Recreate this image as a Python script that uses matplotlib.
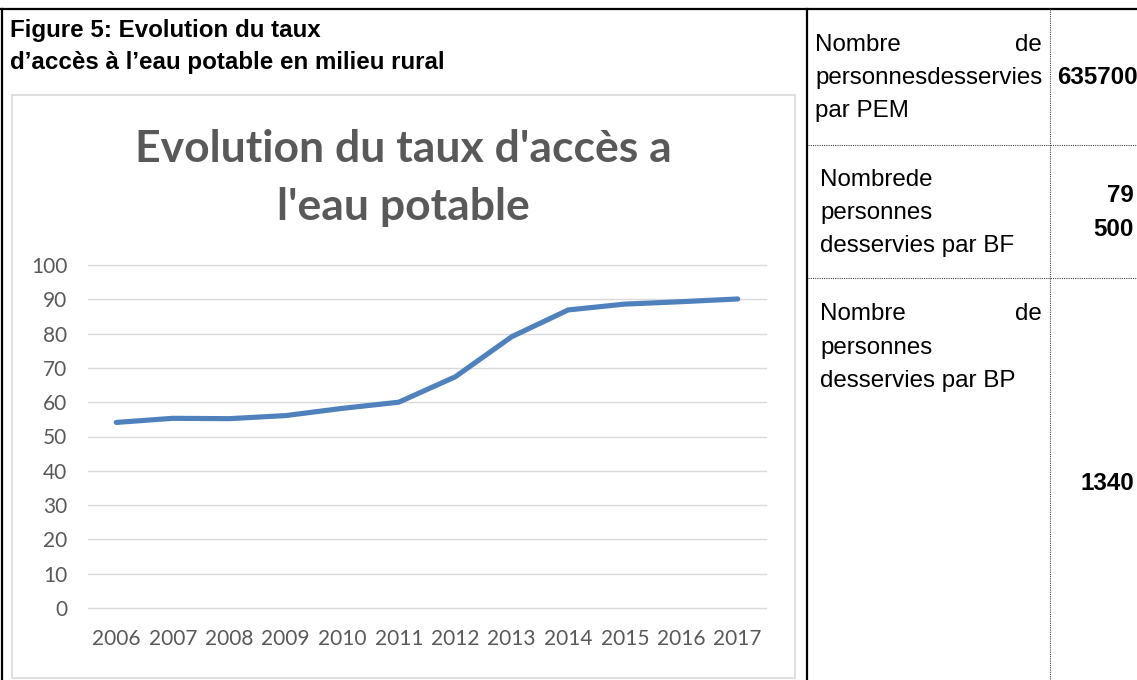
import matplotlib
matplotlib.use("Agg")
import matplotlib.pyplot as plt
from matplotlib.lines import Line2D
from matplotlib.patches import Rectangle

W, H = 1137, 680

# data
annees = ["2006", "2007", "2008", "2009", "2010", "2011",
          "2012", "2013", "2014", "2015", "2016", "2017"]
taux = [54.1, 55.3, 55.2, 56.1, 58.2, 60.0, 67.4, 79.1, 86.9, 88.6, 89.3, 90.1]
yticks = [0, 10, 20, 30, 40, 50, 60, 70, 80, 90, 100]

# table cells on the right
lignes_pem = ["personnesdesservies", "par PEM"]
lignes_bf = ["Nombrede", "personnes", "desservies par BF"]
lignes_bp = ["personnes", "desservies par BP"]
val_pem = "635700"
val_bf = ["79", "500"]
val_bp = "1340"

GRIS = "#595959"
BLEU = "#4f81bd"


def fx(x):
    return x / W


def fy(y):
    return 1 - y / H


fig = plt.figure(figsize=(W / 100, H / 100), dpi=100)

# axes placed in pixel terms
ax = fig.add_axes([fx(88), fy(608), (766 - 88) / W, (608 - 265) / H])
ax.plot(range(len(annees)), taux, color=BLEU, lw=3.7, solid_capstyle="round", zorder=3)
ax.set_xlim(-0.5, len(annees) - 0.5)
ax.set_ylim(0, 100)
ax.set_yticks(yticks)
ax.set_xticks(range(len(annees)))
ax.set_xticklabels(annees)
ax.grid(axis="y", color="#d9d9d9", lw=1.0)
for gl in ax.get_ygridlines():
    gl.set_clip_on(False)
ax.set_axisbelow(True)
for s in ax.spines.values():
    s.set_visible(False)
ax.tick_params(length=0, colors=GRIS, labelsize=15)
ax.tick_params(axis="y", pad=15)
ax.tick_params(axis="x", pad=15)
for t in ax.get_xticklabels() + ax.get_yticklabels():
    t.set_family("Lato")
    t.set_color(GRIS)

# chart title
fig.text(fx(403), fy(149), "Evolution du taux d'accès a", ha="center", va="center",
         fontsize=32, fontweight="bold", color=GRIS, family="Lato")
fig.text(fx(403), fy(207), "l'eau potable", ha="center", va="center",
         fontsize=32, fontweight="bold", color=GRIS, family="Lato")

# chart frame
fig.patches.append(Rectangle((fx(12), fy(678)), fx(795 - 12), (678 - 95) / H,
                             transform=fig.transFigure, fill=False,
                             ec="#d9d9d9", lw=1.2))

# document borders
def trait(x0, y0, x1, y1, **kw):
    fig.add_artist(Line2D([fx(x0), fx(x1)], [fy(y0), fy(y1)],
                          transform=fig.transFigure, **kw))

trait(0, 9, W, 9, color="black", lw=1.6)
trait(2, 9, 2, H, color="black", lw=1.6)
trait(807, 9, 807, H, color="black", lw=1.6)
trait(1050, 9, 1050, H, color="#444444", lw=0.8, ls=(0, (1, 1)))
trait(808, 145, W, 145, color="#444444", lw=0.8, ls=(0, (1, 1)))
trait(808, 278, W, 278, color="#444444", lw=0.8, ls=(0, (1, 1)))

# caption
cap = dict(fontsize=17.4, fontweight="bold", family="Liberation Sans", va="center", ha="left")
fig.text(fx(10), fy(30), "Figure 5: Evolution du taux", **cap)
fig.text(fx(10), fy(62), "d’accès à l’eau potable en milieu rural", **cap)

# table text
txt = dict(fontsize=17.4, family="Liberation Sans", va="center")
num = dict(fontsize=17.4, family="Liberation Sans", va="center", fontweight="bold")

fig.text(fx(815), fy(45), "Nombre", ha="left", **txt)
fig.text(fx(1042), fy(45), "de", ha="right", **txt)
for i, l in enumerate(lignes_pem):
    fig.text(fx(815), fy(78 + 33 * i), l, ha="left", **txt)
fig.text(fx(1057), fy(78), val_pem, ha="left", **num)

for i, l in enumerate(lignes_bf):
    fig.text(fx(820), fy(180 + 33 * i), l, ha="left", **txt)
for i, v in enumerate(val_bf):
    fig.text(fx(1134), fy(196 + 33 * i), v, ha="right", **num)

fig.text(fx(820), fy(314), "Nombre", ha="left", **txt)
fig.text(fx(1042), fy(314), "de", ha="right", **txt)
for i, l in enumerate(lignes_bp):
    fig.text(fx(820), fy(348 + 33 * i), l, ha="left", **txt)
fig.text(fx(1134), fy(483), val_bp, ha="right", **num)

fig.savefig("out.png", dpi=100)
